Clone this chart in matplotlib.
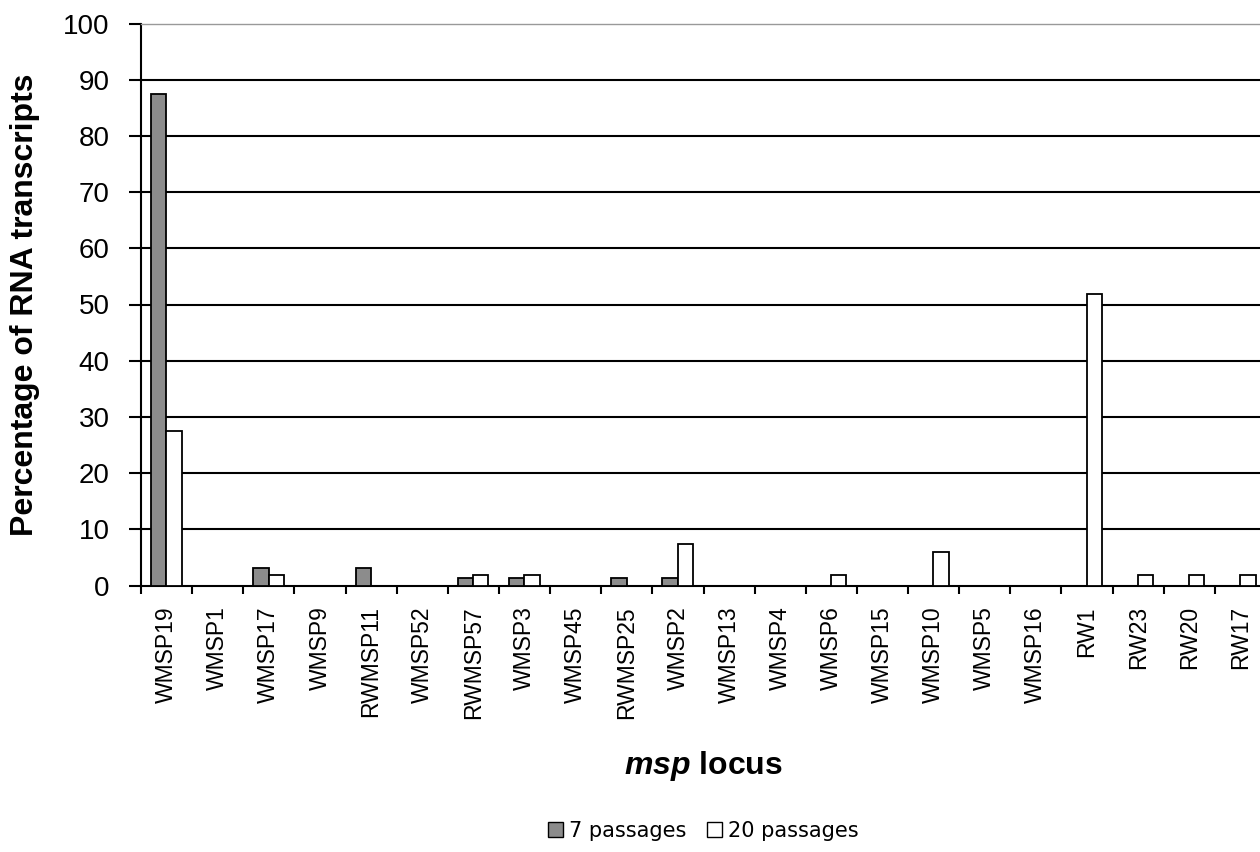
import numpy as np
import matplotlib
matplotlib.use("Agg")
import matplotlib.pyplot as plt
from matplotlib.patches import Patch

loci = ['WMSP19', 'WMSP1', 'WMSP17', 'WMSP9', 'RWMSP11', 'WMSP52', 'RWMSP57',
        'WMSP3', 'WMSP45', 'RWMSP25', 'WMSP2', 'WMSP13', 'WMSP4', 'WMSP6',
        'WMSP15', 'WMSP10', 'WMSP5', 'WMSP16', 'RW1', 'RW23', 'RW20', 'RW17']
passages_7 = [87.5, 0, 3.1, 0, 3.1, 0, 1.3, 1.3, 0, 1.3, 1.3, 0, 0, 0,
              0, 0, 0, 0, 0, 0, 0, 0]
passages_20 = [27.5, 0, 1.8, 0, 0, 0, 1.8, 1.8, 0, 0, 7.3, 0, 0, 1.8,
               0, 5.9, 0, 0, 51.9, 1.8, 1.8, 1.8]

plt.rcParams['font.family'] = ['Liberation Sans', 'DejaVu Sans']
plt.rcParams['mathtext.fontset'] = 'custom'
plt.rcParams['mathtext.it'] = 'Liberation Sans:italic:bold'

fig = plt.figure(figsize=(12.6, 8.52), dpi=100)
# plot area runs a little past the right edge of the picture, as in the original
ax = fig.add_axes([141 / 1260, 1 - 585.5 / 852, 1125 / 1260, 562 / 852])

x = np.arange(len(loci))
w = 0.3
ax.bar(x - 0.155, passages_7, w, color='#8c8c8c', edgecolor='black',
       linewidth=1.3, zorder=3, label='7 passages')
ax.bar(x + 0.145, passages_20, w, color='white', edgecolor='black',
       linewidth=1.3, zorder=3, label='20 passages')

ax.set_xlim(-0.5, len(loci) - 0.5)
ax.set_ylim(0, 100)
ax.set_yticks(range(0, 101, 10))
for y in range(10, 100, 10):
    ax.axhline(y, color='black', linewidth=1.5, zorder=1)

ax.spines['right'].set_visible(False)
ax.spines['top'].set_color('#999999')
ax.spines['top'].set_linewidth(1.0)
ax.spines['left'].set_linewidth(1.5)
ax.spines['bottom'].set_linewidth(1.5)

ax.set_xticks(x)
ax.set_xticklabels(loci, rotation=90, fontsize=16.5, va='top')
ax.set_xticks(np.arange(-0.5, len(loci)), minor=True)
ax.tick_params(axis='x', which='major', length=0, pad=15)
ax.tick_params(axis='x', which='minor', length=6, width=1.5, direction='out')
ax.tick_params(axis='y', length=8.5, width=1.5, direction='out', pad=14,
               labelsize=20)

ax.set_ylabel('Percentage of RNA transcripts', fontsize=23, fontweight='bold',
              va='center')
ax.yaxis.set_label_coords(-0.1031, 0.5)
ax.set_xlabel(r'$\it{msp}$ locus', fontsize=23, fontweight='bold', va='center')
ax.xaxis.set_label_coords(0.5, -0.321)

handles = [Patch(facecolor='#8c8c8c', edgecolor='black', label='7 passages'),
           Patch(facecolor='white', edgecolor='black', label='20 passages')]
fig.legend(handles=handles, loc='center', bbox_to_anchor=(703 / 1260, 1 - 831 / 852),
           ncol=2, frameon=False, handlelength=0.75, handleheight=0.75,
           handletextpad=0.25, columnspacing=1.0,
           prop={'family': 'DejaVu Sans', 'size': 15})

fig.savefig('out.png', dpi=100)
